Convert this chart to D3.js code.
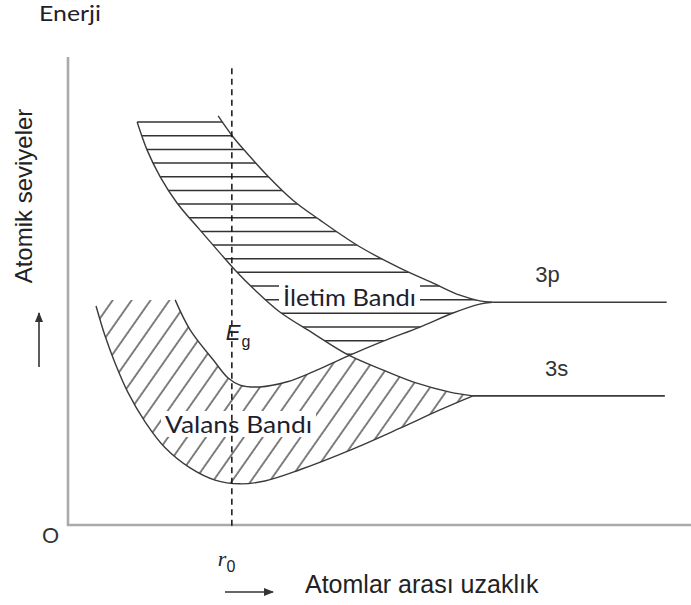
<!DOCTYPE html>
<html>
<head>
<meta charset="utf-8">
<script src="https://cdn.jsdelivr.net/npm/d3@7"></script>
<style>
  body { margin: 0; background: #fff; }
  svg { display: block; }
</style>
</head>
<body>
<script>
// band edges, in chart units (x: distance 0-100, y: energy 0-100)
const p3Upper = [[24.1, 87.4], [26.5, 82.9], [28.7, 79.5], [31.9, 74.8], [36.1, 69.4], [40.4, 65.2],
  [46.9, 59.4], [53.3, 54.9], [58.6, 51.7], [62.9, 49.1], [66.1, 47.9], [68.1, 47.6]];
const p3Lower = [[17.2, 48.1], [19.6, 41.7], [23.3, 35.3], [25.7, 31.4], [27.6, 29.9], [30.8, 29.5],
  [35.2, 30.6], [39.3, 32.7], [44.9, 36.1], [50.6, 39.3], [56.5, 42.3], [61.8, 45.3], [66.1, 47.2], [68.1, 47.6]];
const s3Upper = [[11.1, 86.1], [12.7, 80.1], [14.8, 74.4], [17.5, 68.8], [21.2, 63.0], [24.4, 58.1],
  [26.8, 54.5], [30.0, 50.2], [34.0, 45.5], [39.3, 41.0], [44.9, 36.4], [50.6, 33.1], [56.0, 30.3],
  [61.3, 28.4], [65.0, 27.6]];
const s3Lower = [[4.5, 46.8], [5.9, 40.6], [7.5, 34.8], [9.6, 28.4], [12.4, 22.0], [15.6, 16.5],
  [19.6, 12.2], [23.6, 9.6], [27.6, 8.8], [31.6, 9.4], [37.2, 11.8], [45.3, 16.0], [53.3, 20.7],
  [59.7, 24.6], [65.0, 27.6]];

const levelLabels = ['3p', '3s'];
const levelY = [47.6, 27.6];
const levelStart = [68.1, 65.0];
const levelEnd = [96.1, 95.8];

const r0 = 26.3;

const W = 691, H = 605;
const svg = d3.select('body').append('svg').attr('width', W).attr('height', H);

const x = d3.scaleLinear().domain([0, 100]).range([68, 691]);
const y = d3.scaleLinear().domain([0, 100]).range([525, 57]);

const line = d3.line().x(d => x(d[0])).y(d => y(d[1])).curve(d3.curveCatmullRom.alpha(0.5));
const closed = (pts, extra) => line(pts) + extra.map(p => `L${x(p[0])},${y(p[1])}`).join('') + 'Z';

const defs = svg.append('defs');
function clip(id, d) {
  defs.append('clipPath').attr('id', id).append('path').attr('d', d);
}
clip('belowC', closed(p3Upper, [[68.1, -5], [-5, -5], [-5, 87.4]]));
clip('aboveA', closed(s3Upper, [[110, 27.6], [110, 110], [11.1, 110]]));
clip('aboveB', closed(p3Lower, [[68.1, 110], [-5, 110], [-5, 48.1]]));
clip('aboveD', closed(s3Lower, [[65, 110], [4.5, 110]]));
clip('belowA', closed(s3Upper, [[110, 27.6], [110, -5], [-5, -5], [-5, 110], [11.1, 110]]));
clip('belowB', closed(p3Lower, [[110, 47.6], [110, -5], [-5, -5], [-5, 48.1]]));

defs.append('pattern').attr('id', 'diag').attr('patternUnits', 'userSpaceOnUse')
  .attr('width', 15.5).attr('height', 20).attr('patternTransform', 'rotate(35)')
  .append('line').attr('x1', 1).attr('y1', -2).attr('x2', 1).attr('y2', 22)
  .attr('stroke', '#3c3c3c').attr('stroke-width', 1.3);

const ink = '#3a3a3a';

// axes
svg.append('line').attr('x1', x(0)).attr('x2', x(0)).attr('y1', y(0) + 1).attr('y2', y(100))
  .attr('stroke', '#aaa').attr('stroke-width', 2.6);
svg.append('line').attr('x1', x(0) - 1).attr('x2', x(100)).attr('y1', y(0)).attr('y2', y(0))
  .attr('stroke', '#aaa').attr('stroke-width', 2.6);

// conduction band: horizontal hatching
const cond = svg.append('g').attr('clip-path', 'url(#belowC)')
  .append('g').attr('clip-path', 'url(#aboveA)')
  .append('g').attr('clip-path', 'url(#aboveB)');
cond.selectAll('line').data(d3.range(86.1, 30, -2.92)).join('line')
  .attr('x1', x(0)).attr('x2', x(100)).attr('y1', d => y(d)).attr('y2', d => y(d))
  .attr('stroke', '#333').attr('stroke-width', 1.5);

// valence band: diagonal hatching
svg.append('g').attr('clip-path', 'url(#aboveD)')
  .append('g').attr('clip-path', 'url(#belowA)')
  .append('g').attr('clip-path', 'url(#belowB)')
  .append('rect').attr('x', x(0)).attr('y', y(60)).attr('width', x(70) - x(0)).attr('height', y(0) - y(60))
  .attr('fill', 'url(#diag)');

// band edges
[p3Upper, p3Lower, s3Upper, s3Lower].forEach(pts => {
  svg.append('path').attr('d', line(pts)).attr('fill', 'none').attr('stroke', ink).attr('stroke-width', 1.4);
});

// atomic levels
levelLabels.forEach((lab, i) => {
  svg.append('line').attr('x1', x(levelStart[i])).attr('x2', x(levelEnd[i]))
    .attr('y1', y(levelY[i])).attr('y2', y(levelY[i])).attr('stroke', ink).attr('stroke-width', 1.6);
  svg.append('text').attr('x', x(levelStart[i]) + (i ? 72 : 43)).attr('y', y(levelY[i]) - 20)
    .attr('fill', '#333').attr('font-family', 'Liberation Sans, Arial, sans-serif').attr('font-size', '22px')
    .text(lab);
});

// band labels with white backing
function boxedLabel(tx, ty, str, len) {
  const g = svg.append('g');
  const r = g.append('rect').attr('fill', '#fff');
  const t = g.append('text').attr('x', tx).attr('y', ty).attr('fill', '#1e1e2e')
    .attr('font-family', 'Lato, sans-serif').attr('font-size', '23px')
    .attr('textLength', len).attr('lengthAdjust', 'spacingAndGlyphs').text(str);
  const b = t.node().getBBox();
  r.attr('x', b.x - 4).attr('y', b.y + 1).attr('width', b.width + 8).attr('height', b.height - 2);
}
boxedLabel(283, 306, 'İletim Bandı', 133);
boxedLabel(165, 433, 'Valans Bandı', 147);

// r0 reference line
svg.append('line').attr('x1', x(r0)).attr('x2', x(r0)).attr('y1', y(97.6)).attr('y2', y(-1.1))
  .attr('stroke', '#111').attr('stroke-width', 1.5).attr('stroke-dasharray', '6,4.5');

// Eg
const eg = svg.append('text').attr('x', x(r0) - 6).attr('y', 340).attr('fill', '#222')
  .attr('font-family', 'Liberation Sans, Arial, sans-serif').attr('font-size', '22px');
eg.append('tspan').attr('font-style', 'italic').text('E');
eg.append('tspan').attr('font-size', '16px').attr('dy', 7).attr('dx', 1).text('g');

// r0 tick label
const rl = svg.append('text').attr('x', x(r0) - 14).attr('y', 566).attr('fill', '#222')
  .attr('font-size', '22px');
rl.append('tspan').attr('font-family', 'Liberation Serif, serif').attr('font-style', 'italic').text('r');
rl.append('tspan').attr('font-family', 'Liberation Sans, Arial, sans-serif').attr('font-size', '16px')
  .attr('dy', 6).text('0');

// origin
svg.append('text').attr('x', 42).attr('y', 543).attr('fill', '#333')
  .attr('font-family', 'Liberation Sans, Arial, sans-serif').attr('font-size', '22px').text('O');

// titles
svg.append('text').attr('x', 39).attr('y', 21).attr('fill', '#1e1e2e')
  .attr('font-family', 'Lato, sans-serif').attr('font-size', '21px')
  .attr('textLength', 62).attr('lengthAdjust', 'spacingAndGlyphs').text('Enerji');
svg.append('text').attr('x', 305).attr('y', 593).attr('fill', '#222')
  .attr('font-family', 'Liberation Sans, Arial, sans-serif').attr('font-size', '25px').text('Atomlar arası uzaklık');
svg.append('text').attr('transform', 'translate(32,196) rotate(-90)').attr('text-anchor', 'middle')
  .attr('fill', '#222').attr('font-family', 'Liberation Sans, Arial, sans-serif').attr('font-size', '24px')
  .text('Atomik seviyeler');

// arrows
defs.append('marker').attr('id', 'head').attr('viewBox', '0 0 10 10').attr('refX', 9).attr('refY', 5)
  .attr('markerWidth', 10).attr('markerHeight', 10).attr('markerUnits', 'userSpaceOnUse').attr('orient', 'auto')
  .append('path').attr('d', 'M0,1L10,5L0,9Z').attr('fill', '#333');
svg.append('line').attr('x1', 39).attr('y1', 367).attr('x2', 39).attr('y2', 313)
  .attr('stroke', '#333').attr('stroke-width', 1.6).attr('marker-end', 'url(#head)');
svg.append('line').attr('x1', 225).attr('y1', 592).attr('x2', 273).attr('y2', 592)
  .attr('stroke', '#333').attr('stroke-width', 1.6).attr('marker-end', 'url(#head)');
</script>
</body>
</html>
